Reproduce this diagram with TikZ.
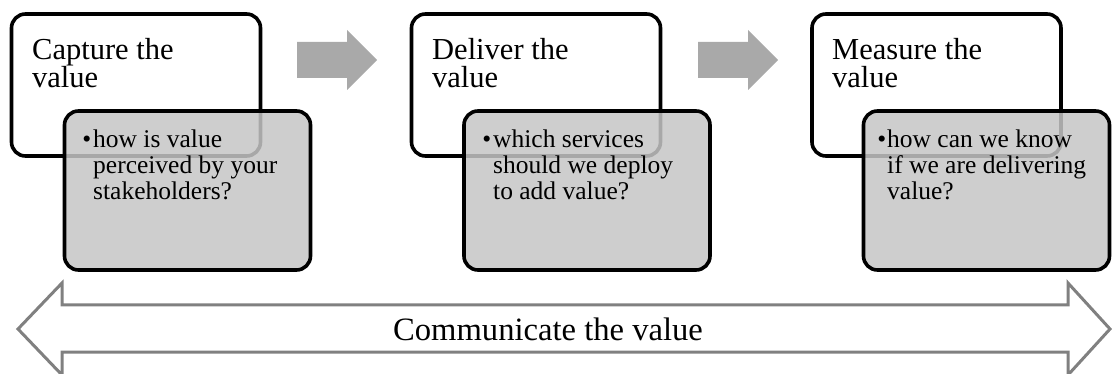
\documentclass[tikz,border=0pt]{standalone}
\usepackage{fontspec}
\setmainfont{Liberation Serif}
\definecolor{gfill}{RGB}{198,198,198}
\definecolor{arrfill}{RGB}{169,169,169}
\definecolor{outl}{RGB}{128,128,128}
\newcommand\bul[1]{\llap{\textbullet\hspace{#1}}}
\begin{document}
\begin{tikzpicture}[x=1pt,y=-1pt,
  wbox/.style={draw=black, line width=3.6pt, rounded corners=14pt, fill=white,
    minimum width=249pt, minimum height=142pt, inner sep=0pt},
  gbox/.style={draw=black, line width=3.6pt, rounded corners=14pt, fill=gfill, fill opacity=0.85,
    minimum width=246pt, minimum height=159pt, inner sep=0pt},
  ttl/.style={anchor=base west, inner sep=0pt, font=\fontsize{30.5}{28}\selectfont},
  btxt/.style={anchor=base west, inner sep=0pt, font=\fontsize{25.5}{26}\selectfont},
  flowarrow/.style={fill=arrfill, draw=none},
  bigarrow/.style={draw=outl, line width=3pt, fill=white, line join=miter}]
\useasboundingbox (0,0) rectangle (1112,374);
% white boxes
\node[wbox] (w1) at (136,85) {};
\node[wbox] (w2) at (536,85) {};
\node[wbox] (w3) at (936.5,85) {};
% grey boxes
\node[gbox] (g1) at (187.5,190.5) {};
\node[gbox] (g2) at (587,190.5) {};
\node[gbox] (g3) at (986.5,190.5) {};
% titles
\node[ttl] (t1) at (32,60) {\vtop{\hbox{Capture the}\hbox{value}}};
\node[ttl] (t2) at (432,60) {\vtop{\hbox{Deliver the}\hbox{value}}};
\node[ttl] (t3) at (832,60) {\vtop{\hbox{Measure the}\hbox{value}}};
% bullet texts
\node[btxt] (b1) at (93,148) {\vtop{\hbox{\bul{2pt}how is value}\hbox{perceived by your}\hbox{stakeholders?}}};
\node[btxt] (b2) at (493,148) {\vtop{\hbox{\bul{2pt}which services}\hbox{should we deploy}\hbox{to add value?}}};
\node[btxt] (b3) at (887,148) {\vtop{\hbox{\bul{1pt}how can we know}\hbox{if we are delivering}\hbox{value?}}};
% flow arrows
\draw[flowarrow] (297,42) -- (347,42) -- (347,30) -- (377,60) -- (347,90) -- (347,78) -- (297,78) -- cycle;
\draw[flowarrow] (698,42) -- (748,42) -- (748,30) -- (778,60) -- (748,90) -- (748,78) -- (698,78) -- cycle;
% communicate double arrow
\draw[bigarrow] (18,329) -- (62,283) -- (62,305) -- (1068,305) -- (1068,283) -- (1110,329)
  -- (1068,375) -- (1068,352) -- (62,352) -- (62,375) -- cycle;
\node[anchor=base, inner sep=0pt, font=\fontsize{32.6}{36}\selectfont] (comm) at (548,341) {Communicate the value};
\end{tikzpicture}
\end{document}
